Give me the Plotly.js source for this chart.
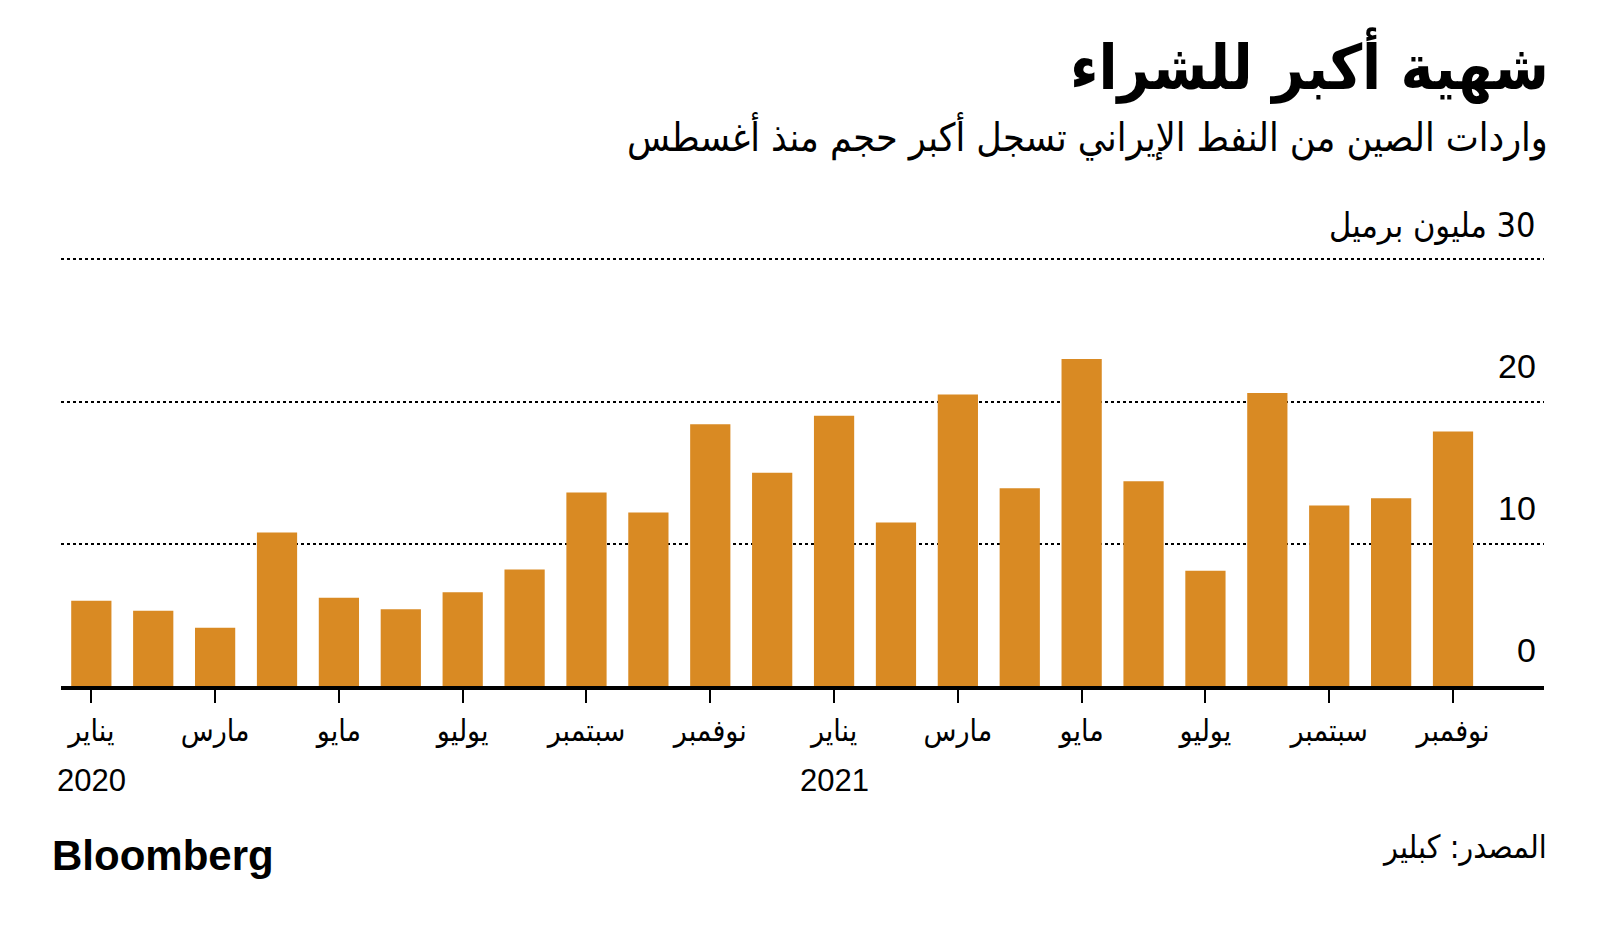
<!DOCTYPE html>
<html>
<head>
<meta charset="utf-8">
<script src="https://cdn.plot.ly/plotly-3.0.1.min.js"></script>
<style>
  html, body { margin: 0; padding: 0; background: #fff; }
  #chart { width: 1600px; height: 935px; }
</style>
</head>
<body>
<div id="chart"></div>
<script>
// China's imports of Iranian oil, million barrels per month
const periods = ['2020-01', '2020-02', '2020-03', '2020-04', '2020-05', '2020-06',
    '2020-07', '2020-08', '2020-09', '2020-10', '2020-11', '2020-12',
    '2021-01', '2021-02', '2021-03', '2021-04', '2021-05', '2021-06',
    '2021-07', '2021-08', '2021-09', '2021-10', '2021-11'];
const imports = [6.0, 5.3, 4.1, 10.8, 6.2, 5.4, 6.6, 8.2, 13.6, 12.2, 18.4, 15.0,
    19.0, 11.5, 20.5, 13.9, 23.0, 14.4, 8.1, 20.6, 12.7, 13.2, 17.9];

const tickPeriods = ['2020-01', '2020-03', '2020-05', '2020-07', '2020-09', '2020-11',
    '2021-01', '2021-03', '2021-05', '2021-07', '2021-09', '2021-11'];
const tickLabels = ['يناير', 'مارس', 'مايو', 'يوليو', 'سبتمبر', 'نوفمبر',
    'يناير', 'مارس', 'مايو', 'يوليو', 'سبتمبر', 'نوفمبر'];
const yearPeriods = ['2020-01', '2021-01'];
const yearLabels = ['2020', '2021'];
const yTicks = [0, 10, 20, 30];
const yUnit = 'مليون برميل';

const arabicFont = '"DejaVu Sans Condensed", "DejaVu Sans", sans-serif';
const numFont = '"Liberation Sans", Arial, sans-serif';

const bars = [{
    x: periods,
    y: imports,
    type: 'bar',
    marker: {color: '#d98a23'},
    hoverinfo: 'skip'
}];

const annotations = [];

// y labels sit above their gridlines
yTicks.forEach(v => {
    const isTop = v === yTicks[yTicks.length - 1];
    annotations.push({
        xref: 'paper', yref: 'y', x: 1, y: v,
        xanchor: 'right', yanchor: 'middle', xshift: -6, yshift: isTop ? 34 : 36,
        text: isTop ? '\u200F' + v + ' ' + yUnit : String(v),
        showarrow: false,
        font: {family: isTop ? arabicFont : numFont, size: isTop ? 34 : 34, color: '#000'}
    });
});

// years under the january ticks
yearPeriods.forEach((p, i) => {
    annotations.push({
        xref: 'x', yref: 'paper', x: p, y: 0, yshift: -94,
        xanchor: 'center', yanchor: 'middle',
        text: yearLabels[i], showarrow: false,
        font: {family: numFont, size: 31, color: '#000'}
    });
});

// title, subtitle, source, logo
annotations.push(
    {xref: 'paper', yref: 'paper', x: 1, y: 1, xshift: 7, yshift: 193,
     xanchor: 'right', yanchor: 'middle', showarrow: false,
     text: '<b>شهية أكبر للشراء</b>', font: {family: arabicFont, size: 62, color: '#000'}},
    {xref: 'paper', yref: 'paper', x: 1, y: 1, xshift: 6, yshift: 122,
     xanchor: 'right', yanchor: 'middle', showarrow: false,
     text: 'واردات الصين من النفط الإيراني تسجل أكبر حجم منذ أغسطس',
     font: {family: arabicFont, size: 39, color: '#000'}},
    {xref: 'paper', yref: 'paper', x: 1, y: 0, xshift: 5, yshift: -161,
     xanchor: 'right', yanchor: 'middle', showarrow: false,
     text: 'المصدر: كبلير', font: {family: arabicFont, size: 32, color: '#000'}},
    {xref: 'paper', yref: 'paper', x: 0, y: 0, xshift: -11, yshift: -169,
     xanchor: 'left', yanchor: 'middle', showarrow: false,
     text: '<b>Bloomberg</b>', font: {family: numFont, size: 42, color: '#000'}}
);

const layout = {
    width: 1600,
    height: 935,
    margin: {l: 61, r: 56, t: 258, b: 249},
    paper_bgcolor: '#fff',
    plot_bgcolor: '#fff',
    showlegend: false,
    bargap: 0.35,
    xaxis: {
        type: 'category',
        range: [-0.49, 23.47],
        tickmode: 'array',
        tickvals: tickPeriods,
        ticktext: tickLabels,
        ticks: 'outside',
        ticklen: 13,
        tickwidth: 2,
        tickcolor: '#000',
        ticklabelstandoff: 2,
        showline: true,
        linecolor: '#000',
        linewidth: 4,
        showgrid: false,
        zeroline: false,
        tickfont: {family: arabicFont, size: 30, color: '#000'},
        fixedrange: true
    },
    yaxis: {
        range: [0, 30.1],
        tickmode: 'array',
        tickvals: yTicks,
        showticklabels: false,
        showgrid: true,
        gridcolor: '#000',
        gridwidth: 2,
        griddash: '3px,3px',
        zeroline: false,
        showline: false,
        fixedrange: true
    },
    annotations: annotations
};

Plotly.newPlot('chart', bars, layout, {displayModeBar: false, staticPlot: true});
</script>
</body>
</html>
